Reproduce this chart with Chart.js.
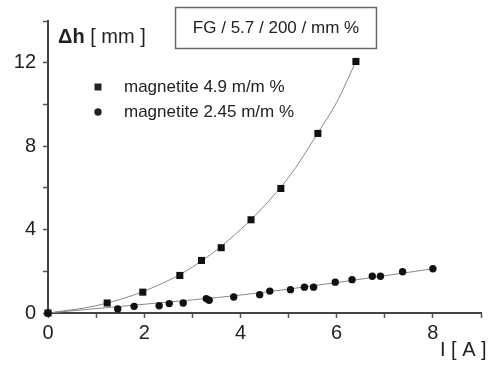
<!DOCTYPE html>
<html>
<head>
<meta charset="utf-8">
<script src="https://cdn.jsdelivr.net/npm/chart.js@4/dist/chart.umd.min.js"></script>
<style>
  html, body { margin: 0; padding: 0; background: #fff; }
  #wrap { width: 492px; height: 367px; }
</style>
</head>
<body>
<div id="wrap"><canvas id="dh-chart" width="492" height="367"></canvas></div>
<script>
// measured points: current I [A] vs. height change dh [mm]
const currentHigh = [0, 1.23, 1.97, 2.74, 3.19, 3.60, 4.22, 4.84, 5.61, 6.40];
const dhHigh      = [0, 0.48, 1.00, 1.80, 2.52, 3.13, 4.47, 5.97, 8.61, 12.06];

const currentLow = [0, 1.45, 1.79, 2.31, 2.52, 2.81, 3.29, 3.35, 3.86, 4.40, 4.61, 5.04, 5.33, 5.52, 5.97, 6.32, 6.74, 6.91, 7.37, 8.00];
const dhLow      = [0, 0.19, 0.32, 0.35, 0.45, 0.48, 0.69, 0.61, 0.77, 0.88, 1.05, 1.12, 1.24, 1.24, 1.48, 1.60, 1.76, 1.76, 1.98, 2.12];

// fitted curves
const fitHighX = [0, 1, 2, 3, 4, 5, 5.6, 6, 6.4];
const fitHighY = [0, 0.35, 1.05, 2.2, 4.0, 6.5, 8.6, 10.1, 12.06];
const fitLowX  = [0, 2, 4, 6, 8];
const fitLowY  = [0, 0.42, 0.86, 1.46, 2.12];

const seriesLabels = ['magnetite 4.9 m/m %', 'magnetite 2.45 m/m %'];
const boxText = 'FG / 5.7 / 200 / mm %';
const xTitle = 'I [ A ]';

const xTicks = [0, 2, 4, 6, 8];
const yTicks = [0, 4, 8, 12];

const toPoints = (xs, ys) => xs.map((x, i) => ({ x: x, y: ys[i] }));

const FONT = '"Liberation Sans", Arial, sans-serif';
const INK = '#222';

// texts inside the plot: parameter box, legend, axis titles
const annotations = {
    id: 'annotations',
    afterDraw(chart) {
        const ctx = chart.ctx;
        ctx.save();
        ctx.fillStyle = INK;
        ctx.strokeStyle = '#666';
        ctx.lineWidth = 1.5;
        ctx.strokeRect(175.5, 7.5, 201, 41);
        ctx.font = '17px ' + FONT;
        ctx.textAlign = 'center';
        ctx.textBaseline = 'middle';
        ctx.fillText(boxText, 276, 28);

        // legend
        ctx.textAlign = 'left';
        ctx.font = '17px ' + FONT;
        ctx.fillRect(94.5, 83.5, 7, 7);
        ctx.fillText(seriesLabels[0], 124, 87);
        ctx.beginPath();
        ctx.arc(98, 112, 3.7, 0, Math.PI * 2);
        ctx.fill();
        ctx.fillText(seriesLabels[1], 124, 112);

        // axis titles
        ctx.font = 'bold 20px ' + FONT;
        ctx.fillText('Δh', 58, 37);
        const w = ctx.measureText('Δh ').width;
        ctx.font = '20px ' + FONT;
        ctx.fillText('[ mm ]', 58 + w, 37);
        ctx.fillText(xTitle, 440, 350);
        ctx.restore();
    }
};

new Chart(document.getElementById('dh-chart'), {
    type: 'scatter',
    data: {
        datasets: [
            {
                label: seriesLabels[0],
                data: toPoints(currentHigh, dhHigh),
                pointStyle: 'rect',
                pointRadius: 5,
                backgroundColor: '#111',
                borderColor: '#111',
                borderWidth: 0,
                clip: false,
                order: 1,
            },
            {
                label: seriesLabels[1],
                data: toPoints(currentLow, dhLow),
                pointStyle: 'circle',
                pointRadius: 3.7,
                backgroundColor: '#111',
                borderColor: '#111',
                borderWidth: 0,
                clip: false,
                order: 1,
            },
            {
                label: 'fit high',
                data: toPoints(fitHighX, fitHighY),
                showLine: true,
                pointRadius: 0,
                borderColor: '#888',
                borderWidth: 1,
                cubicInterpolationMode: 'monotone',
                order: 2,
            },
            {
                label: 'fit low',
                data: toPoints(fitLowX, fitLowY),
                showLine: true,
                pointRadius: 0,
                borderColor: '#888',
                borderWidth: 1,
                cubicInterpolationMode: 'monotone',
                order: 2,
            },
        ],
    },
    options: {
        responsive: false,
        animation: false,
        devicePixelRatio: 1,
        layout: { padding: { top: 21, right: 11, left: 0, bottom: 0 } },
        plugins: {
            legend: { display: false },
            tooltip: { enabled: false },
            title: { display: false },
        },
        scales: {
            x: {
                type: 'linear',
                min: 0,
                max: 9,
                afterFit: s => { s.height = 54; },
                ticks: {
                    stepSize: 1,
                    padding: 3,
                    color: INK,
                    font: { family: FONT, size: 20 },
                    maxRotation: 0,
                    callback: v => xTicks.includes(v) ? String(v) : '',
                },
                grid: { drawOnChartArea: false, drawTicks: true, tickLength: 5, tickColor: '#555', tickWidth: 1.5 },
                border: { display: true, color: '#444', width: 2 },
            },
            y: {
                type: 'linear',
                min: 0,
                max: 14,
                afterFit: s => { s.width = 48; },
                ticks: {
                    stepSize: 2,
                    padding: 7,
                    color: INK,
                    font: { family: FONT, size: 20 },
                    callback: v => yTicks.includes(v) ? String(v) : '',
                },
                grid: { drawOnChartArea: false, drawTicks: true, tickLength: 5, tickColor: '#555', tickWidth: 1.5 },
                border: { display: true, color: '#444', width: 2 },
            },
        },
    },
    plugins: [annotations],
});
</script>
</body>
</html>
